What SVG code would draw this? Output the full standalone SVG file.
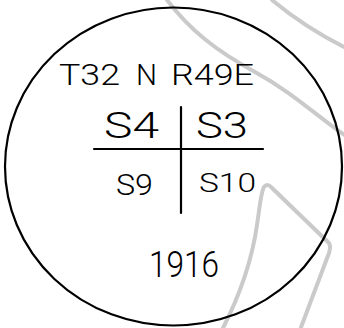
<svg xmlns="http://www.w3.org/2000/svg" width="344" height="328" viewBox="0 0 344 328">
  <style>
    .bg { fill: none; stroke: #cacaca; stroke-width: 4; stroke-linecap: round; stroke-linejoin: round; }
    .ink { fill: none; stroke: #000; stroke-width: 2.2; stroke-linecap: round; }
    .hand { font-family: "Roboto", "Liberation Sans", sans-serif; font-weight: 300; fill: #000; }
  </style>
  <rect width="344" height="328" fill="#fff"/>
  <g id="background-strokes">
    <path class="bg" d="M167,0 C190,30 215,50 255,72 S315,115 346,136"/>
    <path class="bg" d="M272,0 C290,15 310,30 346,48"/>
    <path class="bg" d="M222,330 C240,295 252,260 257,225 C260,205 261,192 264,187 Q267,183 271,187 L329,243 Q331,247 329,253 L300,330"/>
  </g>
  <g id="circle">
    <ellipse class="ink" cx="173.5" cy="166.5" rx="168.5" ry="159"/>
  </g>
  <g id="connectors">
    <line class="ink" x1="181" y1="107" x2="181" y2="213"/>
    <line class="ink" x1="94" y1="149" x2="263" y2="149"/>
  </g>
  <g id="header">
    <text class="hand" font-size="30" y="85"><tspan x="59" textLength="61" lengthAdjust="spacingAndGlyphs">T32</tspan><tspan x="136" textLength="21" lengthAdjust="spacingAndGlyphs">N</tspan><tspan x="171" textLength="83" lengthAdjust="spacingAndGlyphs">R49E</tspan></text>
  </g>
  <g id="s4">
    <text class="hand" font-size="36" x="104" y="138" textLength="55" lengthAdjust="spacingAndGlyphs">S4</text>
  </g>
  <g id="s3">
    <text class="hand" font-size="36" x="196" y="138" textLength="52" lengthAdjust="spacingAndGlyphs">S3</text>
  </g>
  <g id="s9">
    <text class="hand" font-size="30" x="116" y="195" textLength="37" lengthAdjust="spacingAndGlyphs">S9</text>
  </g>
  <g id="s10">
    <text class="hand" font-size="26" x="199" y="192" textLength="57" lengthAdjust="spacingAndGlyphs">S10</text>
  </g>
  <g id="year">
    <text class="hand" font-size="36" x="149" y="277" textLength="70" lengthAdjust="spacingAndGlyphs">1916</text>
  </g>
</svg>
